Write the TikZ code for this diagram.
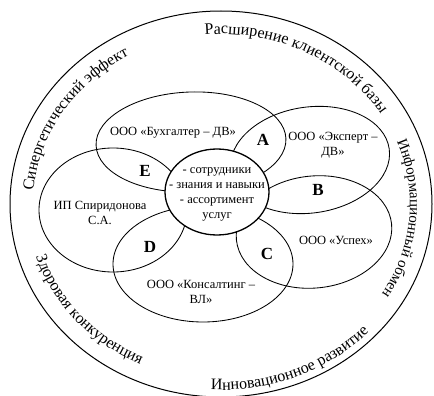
\documentclass[tikz,border=0pt]{standalone}
\usepackage{fontspec}
\setmainfont{Liberation Serif}
\usetikzlibrary{decorations.text}
\newcommand\otxt{\fontsize{16}{16}\selectfont}
\newcommand\otxs{\fontsize{15}{15}\selectfont}
\begin{document}
\begin{tikzpicture}[x=1pt,y=1pt,
  petal/.style={draw, line width=0.85pt},
  lbl/.style={font=\fontsize{12.5}{15}\selectfont, align=center, inner sep=0pt},
  zone/.style={font=\fontsize{17}{17}\selectfont\bfseries, inner sep=0pt},
  arctext/.style={decorate, decoration={text along path, text align=center, text={#1}}}]
\useasboundingbox (0,0) rectangle (434,-396);
% centres
\coordinate (O) at (221,-204);
\coordinate (cB) at (191,-142);
\coordinate (cE) at (310,-160);
\coordinate (cU) at (314,-232);
\coordinate (cK) at (203,-264);
\coordinate (cS) at (113,-210);
\coordinate (cC) at (217,-192);
% outer ring
\draw[line width=1pt] (O) ellipse[x radius=211, y radius=193];
% petals
\draw[petal, rotate around={2:(cB)}] (cB) ellipse[x radius=95, y radius=50];
\draw[petal, rotate around={8:(cE)}] (cE) ellipse[x radius=80, y radius=53];
\draw[petal, rotate around={6:(cU)}] (cU) ellipse[x radius=78, y radius=56];
\draw[petal] (cK) ellipse[x radius=90, y radius=58];
\draw[petal] (cS) ellipse[x radius=74, y radius=62];
% centre
\draw[line width=1.3pt, fill=white] (cC) ellipse[x radius=52, y radius=43];
\node[lbl] (core) at (217,-194) {- сотрудники\\- знания и навыки\\- ассортимент\\услуг};
% petal labels
\node[lbl] (tB) at (173,-133) {ООО «Бухгалтер – ДВ»};
\node[lbl] (tE) at (333,-145) {ООО «Эксперт –\\ДВ»};
\node[lbl] (tU) at (336,-240) {ООО «Успех»};
\node[lbl] (tK) at (201,-292) {ООО «Консалтинг –\\ВЛ»};
\node[lbl] (tS) at (100,-213) {ИП Спиридонова\\С.А.};
% intersection letters
\node[zone] (zA) at (263,-140) {A};
\node[zone] (zB) at (318,-190) {B};
\node[zone] (zC) at (267,-254) {C};
\node[zone] (zD) at (150,-247) {D};
\node[zone] (zE) at (145,-171) {E};
% outer texts
\path[arctext={|\otxt|Расширение клиентской базы}]
  ([shift={(104:188 and 170)}]O) arc[start angle=104, end angle=22, x radius=188, y radius=170];
\path[arctext={|\otxt|Синергетический эффект}]
  ([shift={(190:188 and 170)}]O) arc[start angle=190, end angle=106, x radius=188, y radius=170];
\path[arctext={|\otxs|Информационный обмен}]
  ([shift={(35:189 and 171)}]O) arc[start angle=35, end angle=-45, x radius=189, y radius=171];
\path[arctext={|\otxt|Инновационное развитие}]
  ([shift={(-100:204 and 186)}]O) arc[start angle=-100, end angle=-36, x radius=204, y radius=186];
\path[arctext={|\otxt|Здоровая конкуренция}]
  ([shift={(188:194 and 176)}]O) arc[start angle=188, end angle=254, x radius=194, y radius=176];
\end{tikzpicture}
\end{document}
